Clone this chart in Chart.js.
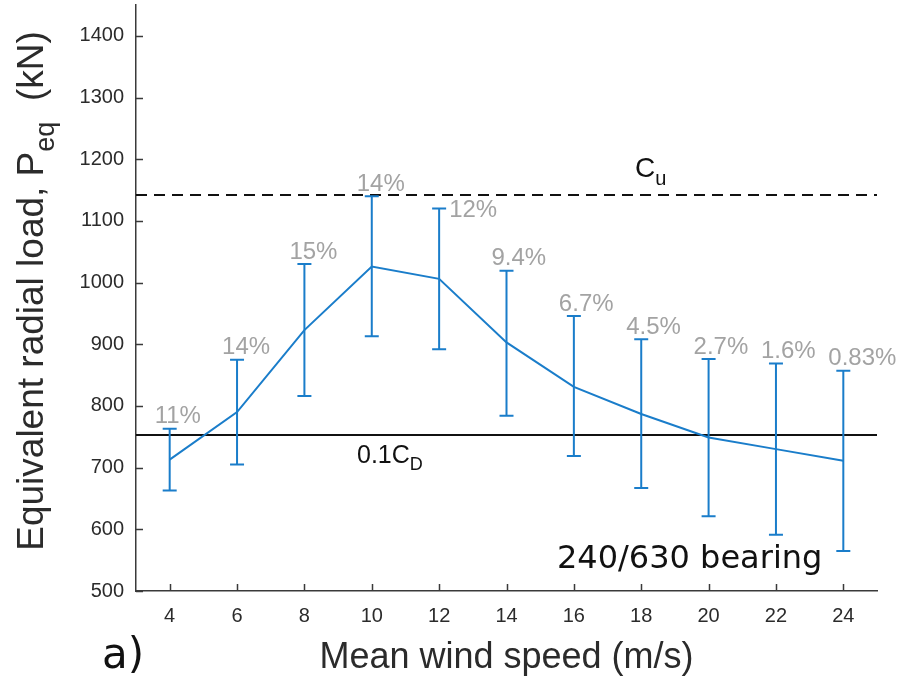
<!DOCTYPE html>
<html>
<head>
<meta charset="utf-8">
<script src="https://cdn.jsdelivr.net/npm/chart.js@4.4.1/dist/chart.umd.min.js"></script>
<style>
  body { margin: 0; background: #fff; }
  canvas { display: block; }
</style>
</head>
<body>
<canvas id="grafica" width="900" height="678"></canvas>
<script>
// datos
const windSpeed = [4, 6, 8, 10, 12, 14, 16, 18, 20, 22, 24];
const meanLoad = [713, 790, 923, 1026, 1006, 903, 831, 787, 749, 730, 711];
const upperLoad = [763, 875, 1030, 1140, 1120, 1019, 946, 908, 876, 869, 857];
const lowerLoad = [663, 705, 816, 913, 892, 784, 719, 667, 621, 591, 565];
const pctLabels = ['11%', '14%', '15%', '14%', '12%', '9.4%', '6.7%', '4.5%', '2.7%', '1.6%', '0.83%'];
const cuLoad = 1142;
const cdLoad = 753;
const xTicks = [4, 6, 8, 10, 12, 14, 16, 18, 20, 22, 24];
const yTicks = [500, 600, 700, 800, 900, 1000, 1100, 1200, 1300, 1400];

const azul = '#1a7dca';
const ejeColor = '#3a3a3a';
const textoColor = '#2b2b2b';

// texto con subindices
function textoRico(ctx, partes, x, y, size, align) {
    const subSize = Math.round(size * 0.72);
    let total = 0;
    partes.forEach(p => {
        ctx.font = (p.sub ? subSize : size) + 'px "Liberation Sans", Arial, sans-serif';
        p.w = ctx.measureText(p.t).width;
        total += p.w;
    });
    let cx = align === 'center' ? x - total / 2 : x;
    ctx.textAlign = 'left';
    ctx.textBaseline = 'alphabetic';
    partes.forEach(p => {
        ctx.font = (p.sub ? subSize : size) + 'px "Liberation Sans", Arial, sans-serif';
        ctx.fillText(p.t, cx, p.sub ? y + size * 0.3 : y);
        cx += p.w;
    });
}

const extras = {
    id: 'extras',
    beforeDraw(chart) {
        const ctx = chart.ctx;
        ctx.save();
        ctx.fillStyle = '#fff';
        ctx.fillRect(0, 0, chart.width, chart.height);
        ctx.restore();
    },
    afterDatasetsDraw(chart) {
        const ctx = chart.ctx;
        const sx = chart.scales.x;
        const sy = chart.scales.y;
        ctx.save();
        ctx.strokeStyle = azul;
        ctx.lineWidth = 2;
        windSpeed.forEach((v, i) => {
            const px = sx.getPixelForValue(v);
            const top = sy.getPixelForValue(upperLoad[i]);
            const bot = sy.getPixelForValue(lowerLoad[i]);
            ctx.beginPath();
            ctx.moveTo(px, top);
            ctx.lineTo(px, bot);
            ctx.moveTo(px - 7, top);
            ctx.lineTo(px + 7, top);
            ctx.moveTo(px - 7, bot);
            ctx.lineTo(px + 7, bot);
            ctx.stroke();
        });

        // porcentajes
        ctx.fillStyle = '#a3a3a3';
        ctx.font = '24px "Liberation Sans", Arial, sans-serif';
        ctx.textAlign = 'left';
        ctx.textBaseline = 'middle';
        windSpeed.forEach((v, i) => {
            const px = sx.getPixelForValue(v);
            const top = sy.getPixelForValue(upperLoad[i]);
            if (v === 12) {
                ctx.fillText(pctLabels[i], px + 10, top + 2);
            } else {
                ctx.fillText(pctLabels[i], px - 15, top - 12);
            }
        });
        ctx.restore();
    },
    afterDraw(chart) {
        const ctx = chart.ctx;
        const sx = chart.scales.x;
        const sy = chart.scales.y;
        const area = chart.chartArea;
        ctx.save();

        // ticks hacia adentro
        ctx.strokeStyle = ejeColor;
        ctx.lineWidth = 1.5;
        ctx.beginPath();
        xTicks.forEach(v => {
            const px = Math.round(sx.getPixelForValue(v)) + 0.5;
            ctx.moveTo(px, area.bottom);
            ctx.lineTo(px, area.bottom - 7);
        });
        yTicks.forEach(v => {
            const py = Math.round(sy.getPixelForValue(v)) + 0.5;
            ctx.moveTo(area.left, py);
            ctx.lineTo(area.left + 7, py);
        });
        ctx.stroke();

        // etiquetas de las lineas
        ctx.fillStyle = '#111';
        textoRico(ctx, [{ t: 'C' }, { t: 'u', sub: true }], 635, sy.getPixelForValue(cuLoad) - 18, 28, 'left');
        textoRico(ctx, [{ t: '0.1C' }, { t: 'D', sub: true }], 357, sy.getPixelForValue(cdLoad) + 28, 25, 'left');

        // titulos de ejes
        ctx.fillStyle = textoColor;
        ctx.font = '36px "Liberation Sans", Arial, sans-serif';
        ctx.textAlign = 'center';
        ctx.textBaseline = 'alphabetic';
        ctx.fillText('Mean wind speed (m/s)', (area.left + area.right) / 2, 668);

        ctx.save();
        ctx.translate(43, 291);
        ctx.rotate(-Math.PI / 2);
        textoRico(ctx, [{ t: 'Equivalent radial load, P' }, { t: 'eq', sub: true }, { t: '  (kN)' }], 0, 0, 37, 'center');
        ctx.restore();

        ctx.fillStyle = '#111';
        ctx.font = '32px "DejaVu Sans", Verdana, sans-serif';
        ctx.textAlign = 'left';
        ctx.fillText('240/630 bearing', 557, 568);

        ctx.font = '42px "DejaVu Sans", Verdana, sans-serif';
        ctx.fillText('a)', 102, 668);
        ctx.restore();
    }
};

const sinPadding = s => {
    s.paddingTop = 0;
    s.paddingBottom = 0;
    s.paddingLeft = 0;
    s.paddingRight = 0;
};

const ctx = document.getElementById('grafica');

const grafica = new Chart(ctx, {
    type: 'line',
    data: {
        datasets: [{
            data: windSpeed.map((v, i) => ({ x: v, y: meanLoad[i] })),
            borderColor: azul,
            borderWidth: 2,
            pointRadius: 0,
            tension: 0
        }, {
            data: [{ x: 3, y: cuLoad }, { x: 25, y: cuLoad }],
            borderColor: '#111',
            borderWidth: 2,
            borderDash: [11, 7],
            pointRadius: 0
        }, {
            data: [{ x: 3, y: cdLoad }, { x: 25, y: cdLoad }],
            borderColor: '#111',
            borderWidth: 2,
            pointRadius: 0
        }]
    },
    options: {
        responsive: false,
        animation: false,
        layout: { padding: { top: 5, right: 23, left: 0, bottom: 0 } },
        plugins: {
            legend: { display: false },
            tooltip: { enabled: false }
        },
        scales: {
            x: {
                type: 'linear',
                min: 3,
                max: 25,
                afterBuildTicks: s => { s.ticks = xTicks.map(v => ({ value: v })); },
                afterFit: s => { s.height = 87; sinPadding(s); },
                grid: { display: false, drawTicks: false },
                border: { display: true, color: ejeColor, width: 1.5 },
                ticks: {
                    color: textoColor,
                    padding: 13,
                    callback: v => String(v),
                    font: { family: '"Liberation Sans", Arial, sans-serif', size: 20 }
                }
            },
            y: {
                type: 'linear',
                min: 500,
                max: 1450,
                afterBuildTicks: s => { s.ticks = yTicks.map(v => ({ value: v })); },
                afterFit: s => { s.width = 136; sinPadding(s); },
                grid: { display: false, drawTicks: false },
                border: { display: true, color: ejeColor, width: 1.5 },
                ticks: {
                    color: textoColor,
                    padding: 12,
                    callback: v => String(v),
                    font: { family: '"Liberation Sans", Arial, sans-serif', size: 20 }
                }
            }
        }
    },
    plugins: [extras]
});
</script>
</body>
</html>
